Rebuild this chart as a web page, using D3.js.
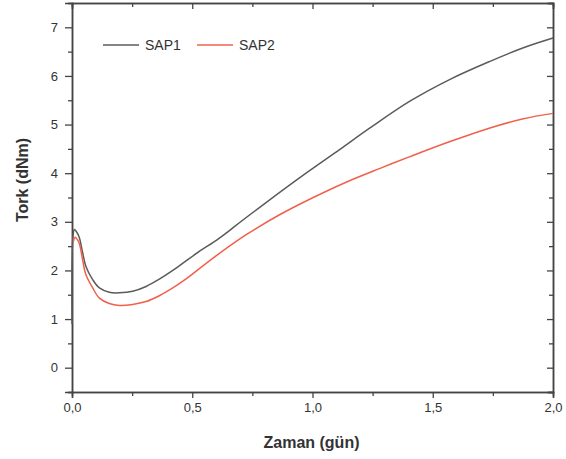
<!DOCTYPE html>
<html><head><meta charset="utf-8">
<script src="https://cdn.jsdelivr.net/npm/d3@7"></script>
<style>body{margin:0;background:#fff}svg{display:block}</style>
</head><body><svg id="c" width="566" height="459"></svg>
<script>
const seriesNames = ["SAP1", "SAP2"];
const sap1X = [0.0, 0.004, 0.01, 0.018, 0.03, 0.044, 0.058, 0.086, 0.114, 0.155, 0.197, 0.252, 0.308, 0.363, 0.419, 0.467, 0.532, 0.60, 0.66, 0.675, 0.80, 0.976, 1.114, 1.239, 1.405, 1.572, 1.738, 1.877, 2.0];
const sap1Y = [0.9, 2.7, 2.84, 2.80, 2.68, 2.37, 2.08, 1.81, 1.64, 1.55, 1.54, 1.57, 1.67, 1.82, 2.00, 2.17, 2.40, 2.62, 2.84, 2.90, 3.37, 4.01, 4.49, 4.93, 5.48, 5.93, 6.30, 6.58, 6.78];
const sap2X = [0.006, 0.012, 0.018, 0.03, 0.044, 0.058, 0.086, 0.114, 0.155, 0.197, 0.252, 0.308, 0.363, 0.419, 0.467, 0.588, 0.726, 0.865, 1.003, 1.142, 1.281, 1.405, 1.572, 1.738, 1.877, 2.0];
const sap2Y = [2.6, 2.68, 2.66, 2.56, 2.22, 1.91, 1.64, 1.43, 1.32, 1.28, 1.30, 1.36, 1.48, 1.64, 1.80, 2.26, 2.74, 3.15, 3.50, 3.82, 4.10, 4.34, 4.65, 4.93, 5.12, 5.23];
const xTicks = [0, 0.5, 1.0, 1.5, 2.0];
const xTickLabels = ["0,0", "0,5", "1,0", "1,5", "2,0"];
const yTicks = [0, 1, 2, 3, 4, 5, 6, 7];
const xTitle = "Zaman (gün)";
const yTitle = "Tork (dNm)";
const colors = ["#5b5b5b", "#f0604c"];

const svg = d3.select("#c");
const L = 72, R = 553, T = 3, B = 392;
const x = d3.scaleLinear().domain([0, 2]).range([L, R]);
const y = d3.scaleLinear().domain([-0.5, 7.5]).range([B, T]);
const font = "'Liberation Sans', Arial, sans-serif";
const axisColor = "#444";

function styleAxis(g) {
  g.selectAll("path").attr("stroke", axisColor).attr("stroke-width", 1.5);
  g.selectAll("line").attr("stroke", axisColor).attr("stroke-width", 1.3);
  g.selectAll("text").attr("font-family", font).attr("font-size", 13).attr("fill", "#333");
}
const xMinor = d3.range(0, 2.01, 0.25).filter(v => !xTicks.some(t => Math.abs(t - v) < 1e-6));
const yMinor = d3.range(-0.5, 7.51, 0.5).filter(v => !yTicks.some(t => Math.abs(t - v) < 1e-6));

// minor ticks
svg.append("g").attr("transform", `translate(0,${B})`)
  .call(d3.axisBottom(x).tickValues(xMinor).tickSize(4).tickFormat("")).call(styleAxis);
svg.append("g").attr("transform", `translate(0,${T})`)
  .call(d3.axisTop(x).tickValues(xMinor).tickSize(-4).tickFormat("")).call(styleAxis);
svg.append("g").attr("transform", `translate(${L},0)`)
  .call(d3.axisLeft(y).tickValues(yMinor).tickSize(4).tickFormat("")).call(styleAxis);
svg.append("g").attr("transform", `translate(${R},0)`)
  .call(d3.axisRight(y).tickValues(yMinor).tickSize(-4).tickFormat("")).call(styleAxis);

// major ticks
svg.append("g").attr("transform", `translate(0,${B})`)
  .call(d3.axisBottom(x).tickValues(xTicks).tickSize(6).tickPadding(5).tickFormat((d, i) => xTickLabels[i])).call(styleAxis);
svg.append("g").attr("transform", `translate(0,${T})`)
  .call(d3.axisTop(x).tickValues(xTicks).tickSize(-6).tickFormat("")).call(styleAxis);
svg.append("g").attr("transform", `translate(${L},0)`)
  .call(d3.axisLeft(y).tickValues(yTicks).tickSize(7).tickPadding(7).tickFormat(d3.format("d"))).call(styleAxis);
svg.append("g").attr("transform", `translate(${R},0)`)
  .call(d3.axisRight(y).tickValues(yTicks).tickSize(-6).tickFormat("")).call(styleAxis);

// lines
const line = d3.line().x(d => x(d[0])).y(d => y(d[1])).curve(d3.curveCatmullRom.alpha(0.5));
const data = [d3.zip(sap1X, sap1Y), d3.zip(sap2X, sap2Y)];
data.forEach((d, i) => {
  svg.append("path").datum(d).attr("d", line).attr("fill", "none")
    .attr("stroke", colors[i]).attr("stroke-width", 1.5);
});

// legend
const legX = [103, 197];
seriesNames.forEach((n, i) => {
  svg.append("line").attr("x1", legX[i]).attr("x2", legX[i] + 36).attr("y1", 45).attr("y2", 45)
    .attr("stroke", colors[i]).attr("stroke-width", 1.5);
  svg.append("text").attr("x", legX[i] + 42).attr("y", 50).text(n)
    .attr("font-family", font).attr("font-size", 14).attr("fill", "#333");
});

// titles
svg.append("text").attr("x", (L + R) / 2 - 1).attr("y", 448).attr("text-anchor", "middle")
  .attr("font-family", font).attr("font-size", 16).attr("font-weight", "bold").attr("fill", "#333").text(xTitle);
svg.append("text").attr("transform", `translate(28,${180}) rotate(-90)`).attr("text-anchor", "middle")
  .attr("font-family", font).attr("font-size", 16).attr("font-weight", "bold").attr("fill", "#333").text(yTitle);
</script></body></html>
